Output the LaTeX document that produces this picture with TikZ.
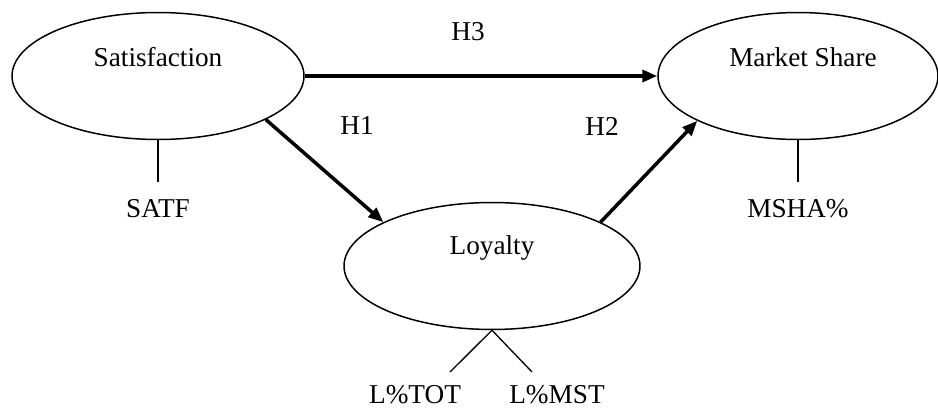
\documentclass[tikz,border=0pt]{standalone}
\usepackage{fontspec}
\setmainfont{Liberation Serif}
\usetikzlibrary{shapes.geometric, arrows.meta}

\tikzset{
  construct/.style={ellipse,draw,line width=0.85pt,inner sep=0pt,minimum height=2.54cm},
  hyparrow/.style={line width=2pt,-{Triangle[length=0.3cm,width=0.24cm]}},
  indicator/.style={line width=0.75pt},
  measure/.style={anchor=north,inner sep=0pt}
}

\begin{document}
\begin{tikzpicture}[x=0.02cm,y=-0.02cm,font=\fontsize{15.5}{18}\selectfont]
\useasboundingbox (0,0) rectangle (938,410);

% Constructs
\node[construct,minimum width=5.84cm] (sat) at (158,76) {};
\node[construct,minimum width=5.92cm] (loy) at (492,266) {};
\node[construct,minimum width=5.6cm] (ms) at (798,76) {};
\node (satlbl) at (158,57) {Satisfaction};
\node (loylbl) at (492,248) {Loyalty};
\node (mslbl) at (803,57) {Market Share};

% Measures
\node[measure] (satf) at (158,199) {SATF};
\node[measure] (msha) at (798,199) {MSHA\%};
\node[measure] (ltot) at (415,385) {L\%TOT};
\node[measure] (lmst) at (557,385) {L\%MST};
\coordinate (ltotend) at (450,372);
\coordinate (lmstend) at (532,372);

\draw[indicator,shorten >=0.34cm] (sat.south) -- (satf.north);
\draw[indicator,shorten >=0.34cm] (ms.south) -- (msha.north);
\draw[indicator] (loy.south) -- (ltotend);
\draw[indicator] (loy.south) -- (lmstend);

% Hypotheses
\draw[hyparrow] (sat.east) -- (ms.west);
\draw[hyparrow] (sat.-22.5) -- (loy.158);
\draw[hyparrow] (loy.22) -- (ms.204);
\node (h3) at (468,32) {H3};
\node (h1) at (357,126) {H1};
\node (h2) at (602,126) {H2};
\end{tikzpicture}
\end{document}
